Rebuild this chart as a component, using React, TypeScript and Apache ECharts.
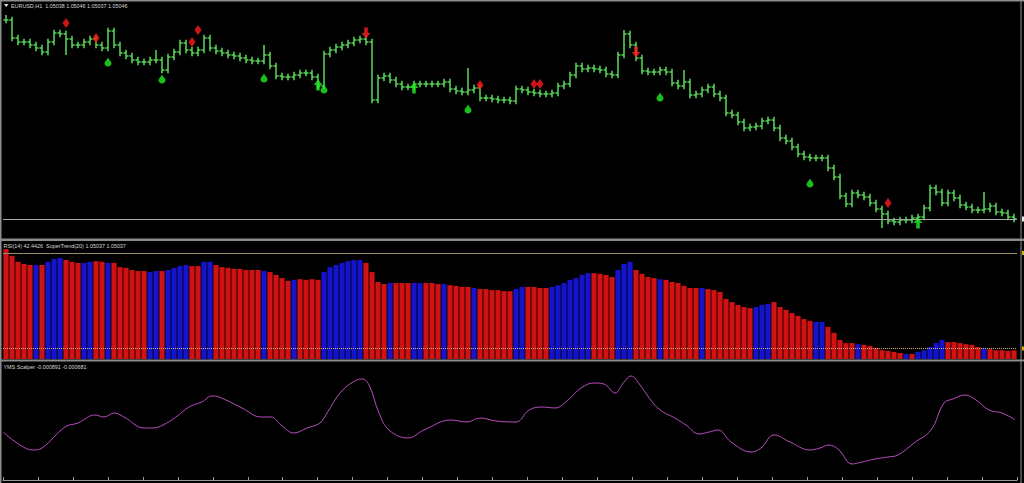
import React, { useEffect, useRef } from "react";
import * as echarts from "echarts";

// ---- Price pane (EURUSD H1) : closing prices, one per bar ----
const closes = [
  1.06041, 1.05951, 1.05931, 1.05931, 1.05916, 1.05901, 1.05881, 1.05931, 1.05976, 1.05971,
  1.05946, 1.05916, 1.05916, 1.05931, 1.05946, 1.05916, 1.05901, 1.05986, 1.05916, 1.05876,
  1.05861, 1.05841, 1.05831, 1.05831, 1.05841, 1.05841, 1.05791, 1.05856, 1.05881, 1.05926,
  1.05891, 1.05876, 1.05891, 1.05951, 1.05901, 1.05886, 1.05876, 1.05866, 1.05861, 1.05851,
  1.05841, 1.05836, 1.05836, 1.05866, 1.05811, 1.05761, 1.05756, 1.05756, 1.05766, 1.05776,
  1.05776, 1.05756, 1.05711, 1.05871, 1.05891, 1.05906, 1.05916, 1.05926, 1.05941, 1.05946,
  1.05931, 1.05641, 1.05751, 1.05761, 1.05741, 1.05721, 1.05706, 1.05706, 1.05721, 1.05721,
  1.05721, 1.05721, 1.05721, 1.05731, 1.05696, 1.05686, 1.05681, 1.05691, 1.05701, 1.05651,
  1.05651, 1.05646, 1.05641, 1.05641, 1.05636, 1.05696, 1.05691, 1.05681, 1.05676, 1.05671,
  1.05671, 1.05676, 1.05711, 1.05721, 1.05766, 1.05811, 1.05796, 1.05801, 1.05796, 1.05791,
  1.05771, 1.05766, 1.05866, 1.05971, 1.05916, 1.05851, 1.05786, 1.05781, 1.05781, 1.05791,
  1.05781, 1.05726, 1.05711, 1.05731, 1.05666, 1.05671, 1.05691, 1.05706, 1.05671, 1.05651,
  1.05576, 1.05566, 1.05531, 1.05501, 1.05506, 1.05511, 1.05536, 1.05541, 1.05501, 1.05451,
  1.05436, 1.05406, 1.05371, 1.05356, 1.05351, 1.05351, 1.05351, 1.05301, 1.05256, 1.05161,
  1.05121, 1.05176, 1.05166, 1.05156, 1.05126, 1.05096, 1.05071, 1.05036, 1.05031, 1.05041,
  1.05041, 1.05051, 1.05056, 1.05101, 1.05201, 1.05181, 1.05126, 1.05176, 1.05151, 1.05116,
  1.05106, 1.05091, 1.05091, 1.05096, 1.05111, 1.05081, 1.05076, 1.05056, 1.05046,
];
// notable wicks [barIndex, price]
const spikeHighs = [
  [0, 1.06066], [25, 1.05891], [43, 1.05916], [77, 1.05801], [103, 1.05991], [113, 1.05791], [163, 1.05181],
];
const spikeLows = [
  [10, 1.05866], [52, 1.05701], [61, 1.05626], [146, 1.05001],
];
const bidPrice = 1.05046;

// ---- signal markers [barIndex, price] ----
const redDiamonds = [
  [10, 1.06026], [15, 1.05951], [31, 1.05931], [32, 1.05991], [79, 1.05716], [88, 1.05721], [89, 1.05721], [147, 1.05126],
];
const redDownArrows = [[60, 1.05976], [105, 1.05881]];
const greenUpArrows = [[52, 1.05716], [68, 1.05701], [152, 1.05026]];
const greenDrops = [
  [17, 1.05831], [26, 1.05746], [43, 1.05751], [53, 1.05696], [77, 1.05596], [109, 1.05656], [134, 1.05226],
];

// ---- RSI(14) / SuperTrend histogram ----
const rsiValues = [
  71.1, 69.2, 67.5, 66.9, 66.6, 66.6, 66.6, 67.5, 68.3, 68.6,
  68.0, 67.5, 67.2, 67.2, 67.5, 67.7, 67.5, 67.2, 67.2, 66.0,
  65.8, 65.2, 64.9, 64.9, 64.6, 64.9, 64.9, 65.2, 65.8, 66.3,
  66.6, 66.3, 66.3, 67.5, 67.5, 66.6, 66.0, 65.8, 65.5, 65.5,
  65.2, 65.2, 65.2, 64.9, 64.6, 63.8, 62.9, 62.1, 62.4, 62.6,
  62.4, 62.6, 62.4, 64.6, 66.0, 66.6, 67.2, 67.7, 68.0, 68.0,
  67.2, 64.6, 61.8, 61.2, 61.5, 61.5, 61.5, 61.5, 61.5, 61.5,
  61.5, 61.5, 61.2, 61.2, 60.9, 60.7, 60.4, 60.4, 60.1, 59.8,
  59.8, 59.5, 59.5, 59.2, 59.2, 59.8, 60.4, 60.4, 60.4, 60.1,
  60.1, 60.4, 60.9, 61.5, 62.4, 62.9, 63.8, 64.3, 64.3, 64.1,
  63.8, 63.2, 65.2, 66.9, 67.5, 65.2, 64.1, 63.2, 62.9, 62.6,
  62.4, 61.8, 61.5, 60.7, 60.1, 60.1, 60.1, 59.8, 59.5, 59.0,
  57.0, 56.1, 55.3, 54.7, 54.4, 54.7, 55.3, 55.6, 56.1, 54.7,
  53.9, 53.0, 52.2, 51.3, 50.8, 50.5, 50.5, 49.1, 47.4, 45.4,
  44.5, 44.5, 44.2, 44.0, 43.7, 43.1, 42.5, 42.3, 42.0, 41.7,
  41.4, 41.4, 42.0, 42.5, 43.4, 44.5, 45.4, 44.8, 44.8, 44.5,
  44.2, 44.0, 43.4, 43.1, 42.8, 42.5, 42.5, 42.3, 42.4426,
];
// SuperTrend state runs, alternating: down (red) first, then up (blue)
const trendRuns = [
  5, 1, 1, 3, 3, 2, 2, 1, 6, 2, 1, 4, 2, 2, 8, 1, 4, 1, 4, 7, 4, 1, 3, 2, 3, 1,
  4, 1, 6, 2, 4, 7, 4, 3, 4, 1, 6, 1, 8, 3, 7, 2, 5, 1, 7, 1, 1, 5, 6, 1, 5,
];
const rsiLevels = [70, 43];

// ---- YMS Scalper oscillator: [bar position, value] ----
const oscPos = [
  -0.5, 2.33, 4.5, 6, 9.83, 12, 14.83, 16.33, 18, 19.67, 23, 24.5, 26.17, 28.33, 30.5, 32.67, 34.33, 35.5,
  39.33, 42.5, 44.17, 45.83, 48, 50.17, 52.33, 53.5, 55.67, 57.83, 59.33, 60.5, 62.17, 63.83, 67, 69.67,
  74.17, 76.83, 79, 81.67, 85, 87.17, 89.33, 91.5, 93.67, 95.83, 98, 99.67, 101.5, 103, 104.17, 105.67,
  107.83, 109.5, 111.17, 113.33, 115.5, 117.17, 118.67, 120.83, 124.17, 125.83, 128, 130.67, 134, 135.67,
  137.17, 138.83, 141, 142.67, 144.83, 147, 148.67, 151.33, 154.17, 156.33, 157.83, 159.83, 161.67,
  163.83, 166, 168.17,
];
const oscValues = [
  -0.001376, -0.001892, -0.00209, -0.002011, -0.001178, -0.001019, -0.000702, -0.000781, -0.000623, -0.000781,
  -0.001218, -0.001218, -0.001099, -0.000781, -0.000385, -0.000186, 0.000052, 0.000012,
  -0.000424, -0.000781, -0.000781, -0.001099, -0.001416, -0.001218, -0.001019, -0.000623, 0.000171, 0.000607,
  0.000726, 0.000488, -0.000623, -0.001297, -0.001614, -0.001297,
  -0.0009, -0.00098, -0.000821, -0.00094, -0.00098, -0.000504, -0.000385, -0.000424, -0.000107, 0.000369,
  0.000567, 0.000527, 0.000171, 0.000607, 0.000845, 0.000488,
  -0.000226, -0.000583, -0.000781, -0.001099, -0.001456, -0.001376, -0.001297, -0.001773, -0.002169, -0.002011,
  -0.001495, -0.001773, -0.00209, -0.002011,
  -0.001892, -0.00209, -0.002645, -0.002566, -0.002447, -0.002368, -0.002288, -0.001812, -0.001297, -0.000226,
  -0.000067, 0.000091, -0.000107,
  -0.000504, -0.000623, -0.000891,
];
const timeSlots = Array.from({ length: 29 }, () => "");

const GREEN = "#55cf55";
const WICK = 0.00016;

function buildOption() {
  const n = closes.length;
  const cats = closes.map((_, i) => String(i));
  const hiMap = new Map(spikeHighs.map(([i, v]) => [i, v]));
  const loMap = new Map(spikeLows.map(([i, v]) => [i, v]));
  // OHLC bars: [index, open, close, low, high]
  const ohlc = closes.map((c, i) => {
    const o = i === 0 ? c : closes[i - 1];
    let hi = Math.max(o, c) + WICK;
    let lo = Math.min(o, c) - WICK;
    if (hiMap.has(i)) hi = Math.max(hi, hiMap.get(i) as number);
    if (loMap.has(i)) lo = Math.min(lo, loMap.get(i) as number);
    return [i, o, c, lo, hi];
  });
  const trendColors: string[] = [];
  trendRuns.forEach((len, k) => {
    for (let j = 0; j < len; j++) trendColors.push(k % 2 === 0 ? "#d01212" : "#1414cc");
  });
  const bars = rsiValues.map((v, i) => ({ value: v, itemStyle: { color: trendColors[i] || "#d01212" } }));
  const osc = oscPos.map((p, i) => [p, oscValues[i]]);

  const textStyle = (x: number, y: number, t: string) => ({
    type: "text",
    x,
    y,
    z: 20,
    style: { text: t, fill: "#d6d6d6", font: '5.4px "Liberation Sans", Arial, sans-serif', textVerticalAlign: "middle" },
  });

  const hiddenCat = (gridIndex: number) => ({
    type: "category",
    gridIndex,
    data: cats,
    boundaryGap: true,
    axisLine: { show: false },
    axisTick: { show: false },
    axisLabel: { show: false },
    splitLine: { show: false },
  });

  const renderBar = (params: any, api: any) => {
    const idx = api.value(0);
    const pO = api.coord([idx, api.value(1)]);
    const pC = api.coord([idx, api.value(2)]);
    const pL = api.coord([idx, api.value(3)]);
    const pH = api.coord([idx, api.value(4)]);
    const bw = api.size([1, 0])[0];
    const t = bw * 0.42;
    const x = pO[0];
    const st = { stroke: GREEN, lineWidth: 1.6 };
    return {
      type: "group",
      children: [
        { type: "line", shape: { x1: x, y1: pL[1], x2: x, y2: pH[1] }, style: st },
        { type: "line", shape: { x1: x - t, y1: pO[1], x2: x, y2: pO[1] }, style: st },
        { type: "line", shape: { x1: x, y1: pC[1], x2: x + t, y2: pC[1] }, style: st },
      ],
    };
  };

  return {
    animation: false,
    backgroundColor: "#000000",
    grid: [
      { left: 3, width: 1014, top: 2, height: 236 },
      { left: 3, width: 1014, top: 241, height: 118 },
      { left: 3, width: 1014, top: 362, height: 118 },
    ],
    xAxis: [
      hiddenCat(0),
      hiddenCat(1),
      { type: "value", gridIndex: 2, min: -0.5, max: n - 0.5, show: false },
      {
        type: "category",
        gridIndex: 2,
        data: timeSlots,
        position: "bottom",
        boundaryGap: true,
        axisLine: { show: true, lineStyle: { color: "#9a9a9a", width: 1 } },
        axisTick: { show: true, inside: true, length: 3, interval: 0, lineStyle: { color: "#9a9a9a" } },
        axisLabel: { show: false },
        splitLine: { show: false },
      },
    ],
    yAxis: [
      { type: "value", gridIndex: 0, min: 1.04951, max: 1.06131, show: false, scale: true },
      { type: "value", gridIndex: 1, min: 40, max: 73.4, startValue: 40, show: false },
      { type: "value", gridIndex: 2, min: -0.00328, max: 0.0014, show: false },
    ],
    series: [
      {
        type: "custom",
        xAxisIndex: 0,
        yAxisIndex: 0,
        data: ohlc,
        encode: { x: 0, y: [1, 2, 3, 4] },
        renderItem: renderBar,
        markLine: {
          silent: true,
          precision: 6,
          symbol: ["none", "none"],
          label: { show: false },
          lineStyle: { color: "#a8a8a8", width: 1, type: "solid" },
          data: [{ yAxis: bidPrice }],
        },
        z: 2,
      },
      {
        type: "scatter",
        xAxisIndex: 0,
        yAxisIndex: 0,
        data: redDiamonds,
        symbol: "diamond",
        symbolSize: [7, 10],
        itemStyle: { color: "#ff1a1a" },
        z: 5,
      },
      {
        type: "scatter",
        xAxisIndex: 0,
        yAxisIndex: 0,
        data: redDownArrows,
        symbol: "path://M3,0 L7,0 L7,6 L10,6 L5,12 L0,6 L3,6 Z",
        symbolSize: [9, 11],
        itemStyle: { color: "#ff2020" },
        z: 5,
      },
      {
        type: "scatter",
        xAxisIndex: 0,
        yAxisIndex: 0,
        data: greenUpArrows,
        symbol: "path://M5,0 L10,6 L7,6 L7,12 L3,12 L3,6 L0,6 Z",
        symbolSize: [9, 11],
        itemStyle: { color: "#22ee22" },
        z: 5,
      },
      {
        type: "scatter",
        xAxisIndex: 0,
        yAxisIndex: 0,
        data: greenDrops,
        symbol: "path://M5,0 C6,3 10,6 10,9 C10,12 8,14 5,14 C2,14 0,12 0,9 C0,6 4,3 5,0 Z",
        symbolSize: [7, 9],
        itemStyle: { color: "#22ee22" },
        z: 5,
      },
      {
        type: "bar",
        xAxisIndex: 1,
        yAxisIndex: 1,
        data: bars,
        barCategoryGap: "14%",
        clip: true,
        markLine: {
          silent: true,
          precision: 4,
          symbol: ["none", "none"],
          label: { show: false },
          data: [
            { yAxis: rsiLevels[0], lineStyle: { color: "#9a8c6e", width: 1, type: "solid" } },
            { yAxis: rsiLevels[1], lineStyle: { color: "#d8b080", width: 1, type: "dotted" } },
          ],
        },
      },
      {
        type: "line",
        xAxisIndex: 2,
        yAxisIndex: 2,
        data: osc,
        smooth: 0.4,
        showSymbol: false,
        symbol: "none",
        lineStyle: { color: "#b94cbf", width: 1 },
      },
    ],
    graphic: [
      { type: "rect", shape: { x: 0, y: 0, width: 1024, height: 1.5 }, style: { fill: "#8e8e8e" }, z: 30 },
      { type: "rect", shape: { x: 0, y: 0, width: 1.5, height: 483 }, style: { fill: "#8e8e8e" }, z: 30 },
      { type: "rect", shape: { x: 0, y: 238.5, width: 1024, height: 2.5 }, style: { fill: "#8a8a8a" }, z: 30 },
      { type: "rect", shape: { x: 0, y: 359.5, width: 1024, height: 2 }, style: { fill: "#8a8a8a" }, z: 30 },
      { type: "line", shape: { x1: 1021, y1: 0, x2: 1021, y2: 483 }, style: { stroke: "#8e8e8e", lineWidth: 1 }, z: 30 },
      { type: "rect", shape: { x: 1022, y: 216.5, width: 2, height: 5 }, style: { fill: "#e8e8e8" }, z: 30 },
      { type: "rect", shape: { x: 1022, y: 251, width: 2, height: 4 }, style: { fill: "#d4b000" }, z: 30 },
      { type: "rect", shape: { x: 1022, y: 346.5, width: 2, height: 4 }, style: { fill: "#d4b000" }, z: 30 },
      { type: "polygon", shape: { points: [[4, 4], [8.5, 4], [6.25, 7]] }, style: { fill: "#e0e0e0" }, z: 30 },
      textStyle(11, 5.5, "EURUSD,H1  1.05038 1.05046 1.05037 1.05046"),
      textStyle(3.5, 245.5, "RSI(14) 42.4426  SuperTrend(20) 1.05037 1.05037"),
      textStyle(3.5, 366.5, "YMS Scalper -0.000891 -0.000681"),
    ],
  };
}

export default function App() {
  const ref = useRef<HTMLDivElement>(null);
  useEffect(() => {
    if (!ref.current) return;
    const chart = echarts.init(ref.current, null, { renderer: "svg" });
    chart.setOption(buildOption() as any);
    return () => chart.dispose();
  }, []);
  return (
    <div
      ref={ref}
      style={{ position: "fixed", left: 0, top: 0, width: 1024, height: 483, background: "#000" }}
    />
  );
}
